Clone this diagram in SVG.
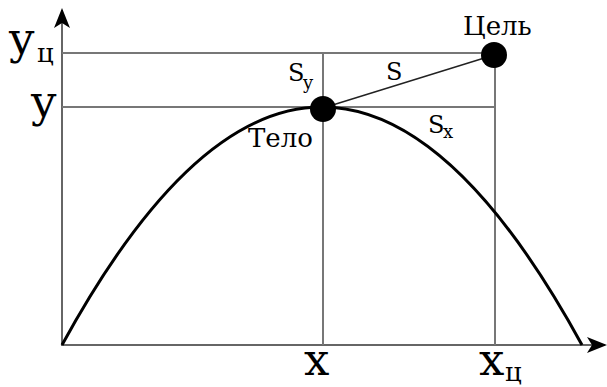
<svg xmlns="http://www.w3.org/2000/svg" width="607" height="387" viewBox="0 0 607 387">
<defs>
<style>
.grid{stroke:#777;stroke-width:2;fill:none}
.axis{stroke:#666;stroke-width:2;fill:none}
.curve{stroke:#000;stroke-width:3;fill:none}
.seg{stroke:#222;stroke-width:1.5;fill:none}
.dot{fill:#000}
.big{font-size:45px}
.sub{font-size:26px}
.lbl{font-size:26px}
.s{font-size:24px}
.small{font-size:18px}
</style>
<marker id="arr" viewBox="0 0 20 20" refX="18" refY="10" markerWidth="20" markerHeight="20" markerUnits="userSpaceOnUse" orient="auto">
<path d="M0,2 L20,10 L0,18 L5,10 Z" fill="#000"/>
</marker>
</defs>
<g id="connectors">
<line class="axis" x1="62" y1="346" x2="62" y2="10" marker-end="url(#arr)"/>
<line class="axis" x1="62" y1="345" x2="605" y2="345" marker-end="url(#arr)"/>
<line class="grid" x1="62" y1="53" x2="495" y2="53"/>
<line class="grid" x1="62" y1="107" x2="495" y2="107"/>
<line class="grid" x1="323" y1="53" x2="323" y2="345"/>
<line class="grid" x1="495" y1="53" x2="495" y2="345"/>
<path class="curve" d="M62,345 Q322,-131 582,345"/>
<line class="seg" x1="323" y1="108" x2="494" y2="55"/>
</g>
<g font-family="'DejaVu Serif', 'Liberation Serif', serif" fill="#000">
<g id="axis-labels">
<text class="big" x="9" y="54">y</text><text class="sub" x="37" y="62">ц</text>
<text class="big" x="31" y="117">y</text>
<text class="big" x="304" y="375">x</text>
<text class="big" x="479" y="375">x</text><text class="sub" x="505" y="381">ц</text>
</g>
<g id="body">
<circle class="dot" cx="323" cy="109" r="13"/>
<text class="lbl" x="248" y="147">Тело</text>
</g>
<g id="target">
<circle class="dot" cx="494" cy="55" r="13"/>
<text class="lbl" x="463" y="35">Цель</text>
</g>
<g id="segment-labels">
<text class="s" x="288" y="81">S</text><text class="small" x="303" y="89">y</text>
<text class="s" x="386" y="80">S</text>
<text class="s" x="428" y="133">S</text><text class="small" x="443" y="138">x</text>
</g>
</g>
</svg>
